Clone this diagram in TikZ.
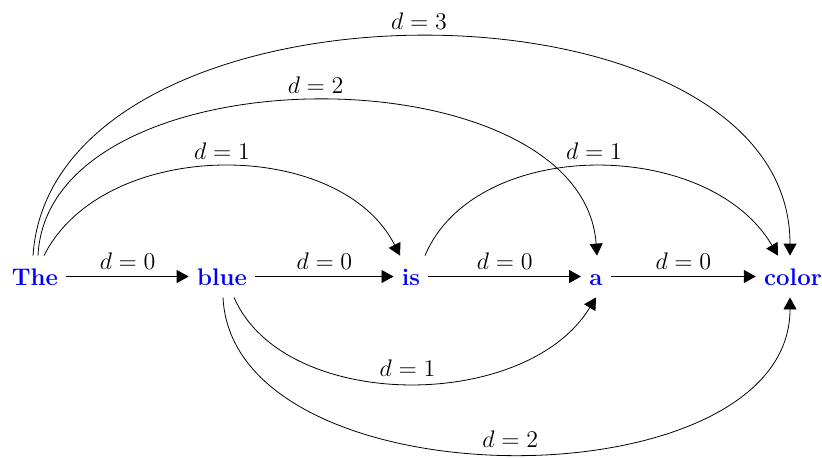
\documentclass[tikz,border=0pt]{standalone}
\usetikzlibrary{arrows.meta}

\begin{document}
\begin{tikzpicture}[x=0.5pt, y=-0.5pt, font=\large,
  >={Triangle[length=6pt,width=6.5pt]},
  word/.style={text=blue, font=\large\bfseries, anchor=base, inner xsep=4pt, inner ysep=6pt, text height=8.5pt, text depth=0pt},
  arc/.style={->, thin},
  lbl/.style={above}]
  \useasboundingbox (0,0) rectangle (822,457);
  \node[word] (the)   at (35,285)  {The};
  \node[word] (blue)  at (222,285) {blue};
  \node[word] (is)    at (411,285) {is};
  \node[word] (a)     at (596,285) {a};
  \node[word] (color) at (793,285) {color};
  % neighbours
  \draw[arc] (the.east) -- (blue.west)  node[midway,lbl] {$d=0$};
  \draw[arc] (blue.east) -- (is.west)   node[midway,lbl] {$d=0$};
  \draw[arc] (is.east) -- (a.west)      node[midway,lbl] {$d=0$};
  \draw[arc] (a.east) -- (color.west)   node[midway,lbl] {$d=0$};
  % arcs above
  \draw[arc] ([xshift=-1pt]the.north) .. controls +(20,-292) and +(0,-292) .. ([xshift=-1.5pt]color.north)
    node[pos=0.5,lbl] {$d=3$};
  \draw[arc] ([xshift=1.5pt]the.north) .. controls +(10,-207) and +(-15,-207) .. ([xshift=0.5pt]a.north)
    node[pos=0.5,lbl] {$d=2$};
  \draw[arc] ([xshift=4.5pt]the.north) .. controls +(60,-119) and +(-60,-119) .. ([xshift=-5.5pt]is.north)
    node[pos=0.5,lbl] {$d=1$};
  \draw[arc] ([xshift=7pt]is.north) .. controls +(50,-119) and +(-70,-119) .. ([xshift=-7.5pt]color.north)
    node[pos=0.5,lbl] {$d=1$};
  % arcs below
  \draw[arc] ([xshift=6pt]blue.south) .. controls +(50,115) and +(-70,115) .. (a.south)
    node[pos=0.5,lbl] {$d=1$};
  \draw[arc] ([xshift=0.5pt]blue.south) .. controls +(10,209) and +(0,209) .. ([xshift=-1.5pt]color.south)
    node[pos=0.5,lbl] {$d=2$};
\end{tikzpicture}
\end{document}
